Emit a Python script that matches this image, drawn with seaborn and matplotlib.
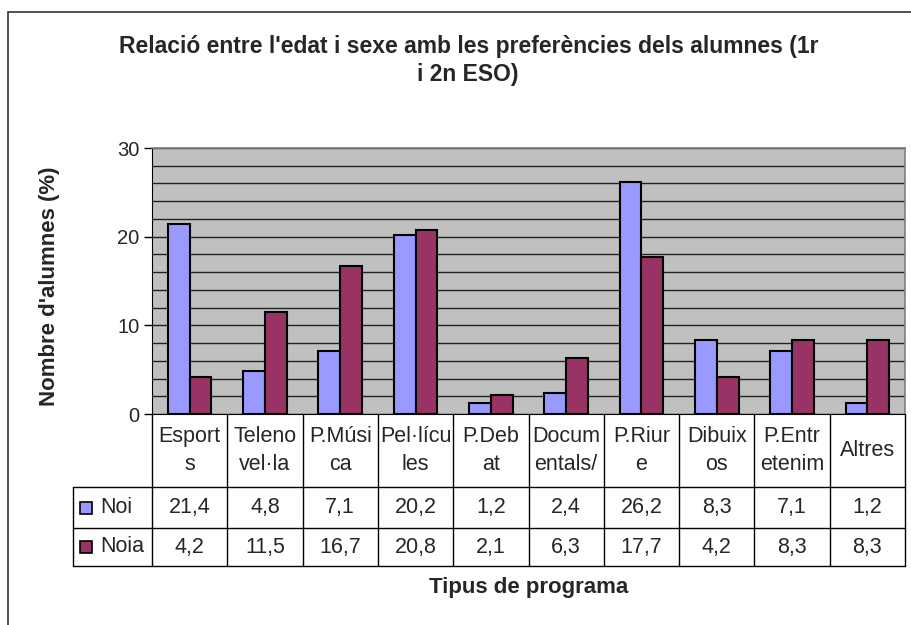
import numpy as np
import pandas as pd
import matplotlib
matplotlib.use("Agg")
import matplotlib.pyplot as plt
import matplotlib.transforms as mtransforms
from matplotlib.patches import Rectangle
import seaborn as sns

# chart data
categories = ["Esports", "Telenovel·la", "P.Música", "Pel·lícules", "P.Debat",
              "Documentals/", "P.Riure", "Dibuixos", "P.Entretenim", "Altres"]
table_labels = ["Esport\ns", "Teleno\nvel·la", "P.Músi\nca", "Pel·lícu\nles", "P.Deb\nat",
                "Docum\nentals/", "P.Riur\ne", "Dibuix\nos", "P.Entr\netenim", "Altres"]
noi = [21.4, 4.8, 7.1, 20.2, 1.2, 2.4, 26.2, 8.3, 7.1, 1.2]
noia = [4.2, 11.5, 16.7, 20.8, 2.1, 6.3, 17.7, 4.2, 8.3, 8.3]
series = ["Noi", "Noia"]
colors = ["#9999FF", "#993366"]

W, H = 911, 625


def fx(px):
    return px / W


def fy(py):
    return 1 - py / H


df = pd.DataFrame({
    "categoria": categories * 2,
    "valor": noi + noia,
    "sexe": ["Noi"] * len(categories) + ["Noia"] * len(categories),
})

sns.set_style("white")
plt.rcParams["font.family"] = ["Liberation Sans", "DejaVu Sans"]

fig = plt.figure(figsize=(W / 100, H / 100), dpi=100)
fig.patch.set_facecolor("white")

left, right, top, bottom = 152, 905, 148, 414
ax = fig.add_axes([fx(left), fy(bottom), fx(right - left), (bottom - top) / H])
ax.set_facecolor("#C0C0C0")

sns.barplot(data=df, x="categoria", y="valor", hue="sexe", order=categories,
            hue_order=series, palette=colors, width=0.58, saturation=1,
            edgecolor="black", linewidth=1.5, legend=False, ax=ax, zorder=3)

ax.set_xlim(-0.5, len(categories) - 0.5)
ax.set_ylim(0, 30)
ax.set_yticks([0, 10, 20, 30])
ax.set_yticks(np.arange(0, 31, 2), minor=True)
ax.yaxis.grid(True, which="both", color="#222222", linewidth=1.0, zorder=0)
ax.set_axisbelow(True)
ax.tick_params(axis="y", which="major", direction="out", length=6, width=1,
               color="black", labelsize=14.5, pad=3, left=True)
ax.tick_params(axis="y", which="minor", length=0)
ax.set_xticks([])
ax.set_xlabel("")
ax.set_ylabel("")
for side in ["top", "right"]:
    ax.spines[side].set_color("#808080")
    ax.spines[side].set_linewidth(1.2)
ax.spines["left"].set_color("black")
ax.spines["bottom"].set_color("black")

# title and axis labels
fig.text(fx(469), fy(46), "Relació entre l'edat i sexe amb les preferències dels alumnes (1r",
         ha="center", va="center", fontsize=16.5, fontweight="bold")
fig.text(fx(468), fy(74), "i 2n ESO)", ha="center", va="center",
         fontsize=16.5, fontweight="bold")
fig.text(fx(50), fy(286), "Nombre d'alumnes (%)", rotation=90, ha="center",
         va="center", fontsize=16, fontweight="bold")
fig.text(fx(529), fy(588), "Tipus de programa", ha="center", va="center",
         fontsize=16, fontweight="bold")

# data table under the plot
trans = mtransforms.blended_transform_factory(ax.transData, fig.transFigure)
row_top, row1, row2, row_bot = 414, 487, 528, 566
n = len(categories)
lw = 1.0
for i in range(n + 1):
    ax.plot([i - 0.5, i - 0.5], [fy(row_top), fy(row_bot)], transform=trans,
            color="black", lw=lw, clip_on=False)
for py in [row1, row2, row_bot]:
    fig.add_artist(plt.Line2D([fx(73), fx(right)], [fy(py), fy(py)],
                              color="black", lw=lw))
fig.add_artist(plt.Line2D([fx(73), fx(73)], [fy(row1), fy(row_bot)],
                          color="black", lw=lw))

for i, lab in enumerate(table_labels):
    ax.text(i, fy((row_top + row1) / 2), lab, transform=trans, ha="center",
            va="center", fontsize=15.5, linespacing=1.45)
    ax.text(i, fy((row1 + row2) / 2), f"{noi[i]:.1f}".replace(".", ","),
            transform=trans, ha="center", va="center", fontsize=15.5)
    ax.text(i, fy((row2 + row_bot) / 2), f"{noia[i]:.1f}".replace(".", ","),
            transform=trans, ha="center", va="center", fontsize=15.5)

for k, (name, col) in enumerate(zip(series, colors)):
    yc = (row1 + row2) / 2 if k == 0 else (row2 + row_bot) / 2
    fig.add_artist(Rectangle((fx(80), fy(yc + 6)), fx(12), 12 / H,
                             facecolor=col, edgecolor="black", lw=1.2))
    fig.text(fx(100), fy(yc), name, ha="left", va="center", fontsize=15.5)

# outer chart frame
fig.add_artist(Rectangle((fx(8), fy(700)), fx(1000), (700 - 12) / H,
                         facecolor="none", edgecolor="#333333", lw=1.2))

fig.savefig("out.png", dpi=100)
